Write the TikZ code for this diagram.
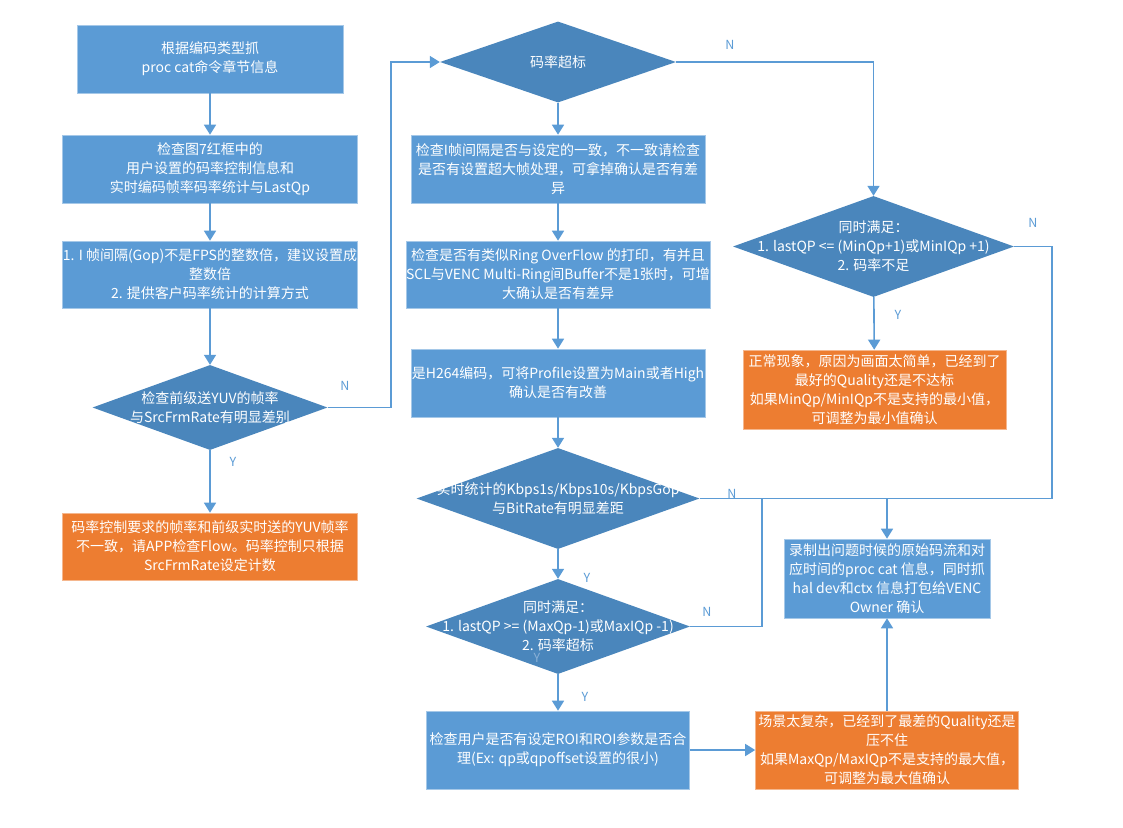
\documentclass[tikz,border=0pt]{standalone}
\usepackage{fontspec}
\setmainfont{Noto Sans CJK SC}
\usetikzlibrary{shapes.geometric,arrows.meta}
\definecolor{boxblue}{HTML}{5B9BD5}
\definecolor{diablue}{HTML}{4A86BC}
\definecolor{boxorange}{HTML}{ED7D31}
\definecolor{faintblue}{HTML}{8AB0D6}
\tikzset{
  box/.style={rectangle,fill=boxblue,draw=boxblue!55!white,line width=0.6pt,
    text=white,align=center,inner sep=0pt,font=\fontsize{14}{19}\selectfont},
  warn/.style={box,fill=boxorange,draw=boxorange!55!white},
  dia/.style={diamond,fill=diablue,draw=none,inner sep=0pt},
  diatext/.style={text=white,align=center,inner sep=0pt,font=\fontsize{14}{19}\selectfont},
  yn/.style={text=boxblue,inner sep=0pt,font=\fontsize{12.5}{14}\selectfont},
  flow/.style={draw=boxblue,line width=1.6pt,-{Triangle[width=12pt,length=10pt]}}
}
\begin{document}
\begin{tikzpicture}[x=1pt,y=-1pt]
  \useasboundingbox (0,0) rectangle (1123,827);
  \path
    (210,59) node[box,minimum width=266,minimum height=68] (a)
      {根据编码类型抓\\proc cat命令章节信息}
    (210,169) node[box,minimum width=295,minimum height=68] (b)
      {检查图7红框中的\\用户设置的码率控制信息和\\实时编码帧率码率统计与LastQp}
    (210,274.5) node[box,minimum width=295,minimum height=67] (c)
      {1. I 帧间隔(Gop)不是FPS的整数倍，建议设置成\\整数倍\\2. 提供客户码率统计的计算方式}
    (210,407.5) node[dia,minimum width=235,minimum height=85,
      label={[diatext]center:{检查前级送YUV的帧率\\与SrcFrmRate有明显差别}}] (d1) {}
    (210,546.5) node[warn,minimum width=295,minimum height=67] (o1)
      {码率控制要求的帧率和前级实时送的YUV帧率\\不一致，请APP检查Flow。码率控制只根据\\SrcFrmRate设定计数}
    (558,62) node[dia,minimum width=236,minimum height=81,
      label={[diatext]center:{码率超标}}] (d2) {}
    (558,169) node[box,minimum width=294,minimum height=68] (e)
      {检查I帧间隔是否与设定的一致，不一致请检查\\是否有设置超大帧处理，可拿掉确认是否有差\\异}
    (558,274.5) node[box,minimum width=294,minimum height=67] (f)
      {检查是否有类似Ring OverFlow 的打印，有并且\\SCL与VENC Multi-Ring间Buffer不是1张时，可增\\大确认是否有差异}
    (558,383) node[box,minimum width=294,minimum height=68] (g)
      {是H264编码，可将Profile设置为Main或者High\\确认是否有改善}
    (558,498.5) node[dia,minimum width=283,minimum height=101,
      label={[diatext]center:{实时统计的Kbps1s/Kbps10s/KbpsGop\\与BitRate有明显差距}}] (d3) {}
    (558,626.5) node[dia,minimum width=264,minimum height=95,
      label={[diatext]center:{同时满足：\\1. lastQP >= (MaxQp-1)或MaxIQp -1)\\2. 码率超标}}] (d4) {}
    (558,750) node[box,minimum width=263,minimum height=78] (h)
      {检查用户是否有设定ROI和ROI参数是否合\\理(Ex: qp或qpoffset设置的很小)}
    (873.5,246.5) node[dia,minimum width=281,minimum height=101,
      label={[diatext]center:{同时满足：\\1. lastQP <= (MinQp+1)或MinIQp +1)\\2. 码率不足}}] (d5) {}
    (874.5,389.5) node[warn,minimum width=263,minimum height=79] (o2)
      {正常现象，原因为画面太简单，已经到了\\最好的Quality还是不达标\\如果MinQp/MinIQp不是支持的最小值，\\可调整为最小值确认}
    (887,578.5) node[box,minimum width=206,minimum height=79] (r)
      {录制出问题时候的原始码流和对\\应时间的proc cat 信息，同时抓\\hal dev和ctx 信息打包给VENC\\Owner 确认}
    (887,750) node[warn,minimum width=263,minimum height=78] (o3)
      {场景太复杂，已经到了最差的Quality还是\\压不住\\如果MaxQp/MaxIQp不是支持的最大值，\\可调整为最大值确认};
  % Y / N marks
  \path
    (345,386) node[yn] (n1) {N}
    (233,462) node[yn] (y1) {Y}
    (730,45) node[yn] (n2) {N}
    (732,494) node[yn] (n3) {N}
    (587,578) node[yn] (y3) {Y}
    (707,612) node[yn] (n4) {N}
    (585,697) node[yn] (y4) {Y}
    (537,658) node[yn,text=faintblue] (y4b) {Y}
    (1033,223) node[yn] (n5) {N}
    (898,315) node[yn] (y5) {Y};
  \coordinate (j) at (r.north |- d3.east);
  \begin{scope}[flow]
    \draw (a) to (b);
    \draw (b) to (c);
    \draw (c) to (d1);
    \draw (d1) to (o1);
    \draw (d1.east) -- ++(63,0) |- (d2.west);
    \draw (d2) to (e);
    \draw (d2.east) -| (d5.north);
    \draw (e) to (f);
    \draw (f) to (g);
    \draw (g) to (d3);
    \draw (d3.east) -| (r.north);
    \draw (d3) to (d4);
    \draw[-] (d4.east) -- ++(72,0) |- (j);
    \draw (d4) to (h);
    \draw (h) to (o3);
    \draw (o3) to (r);
    \draw (d5) to (o2);
    \draw[-] (d5.east) -- ++(38,0) |- (j);
  \end{scope}
\end{tikzpicture}
\end{document}
